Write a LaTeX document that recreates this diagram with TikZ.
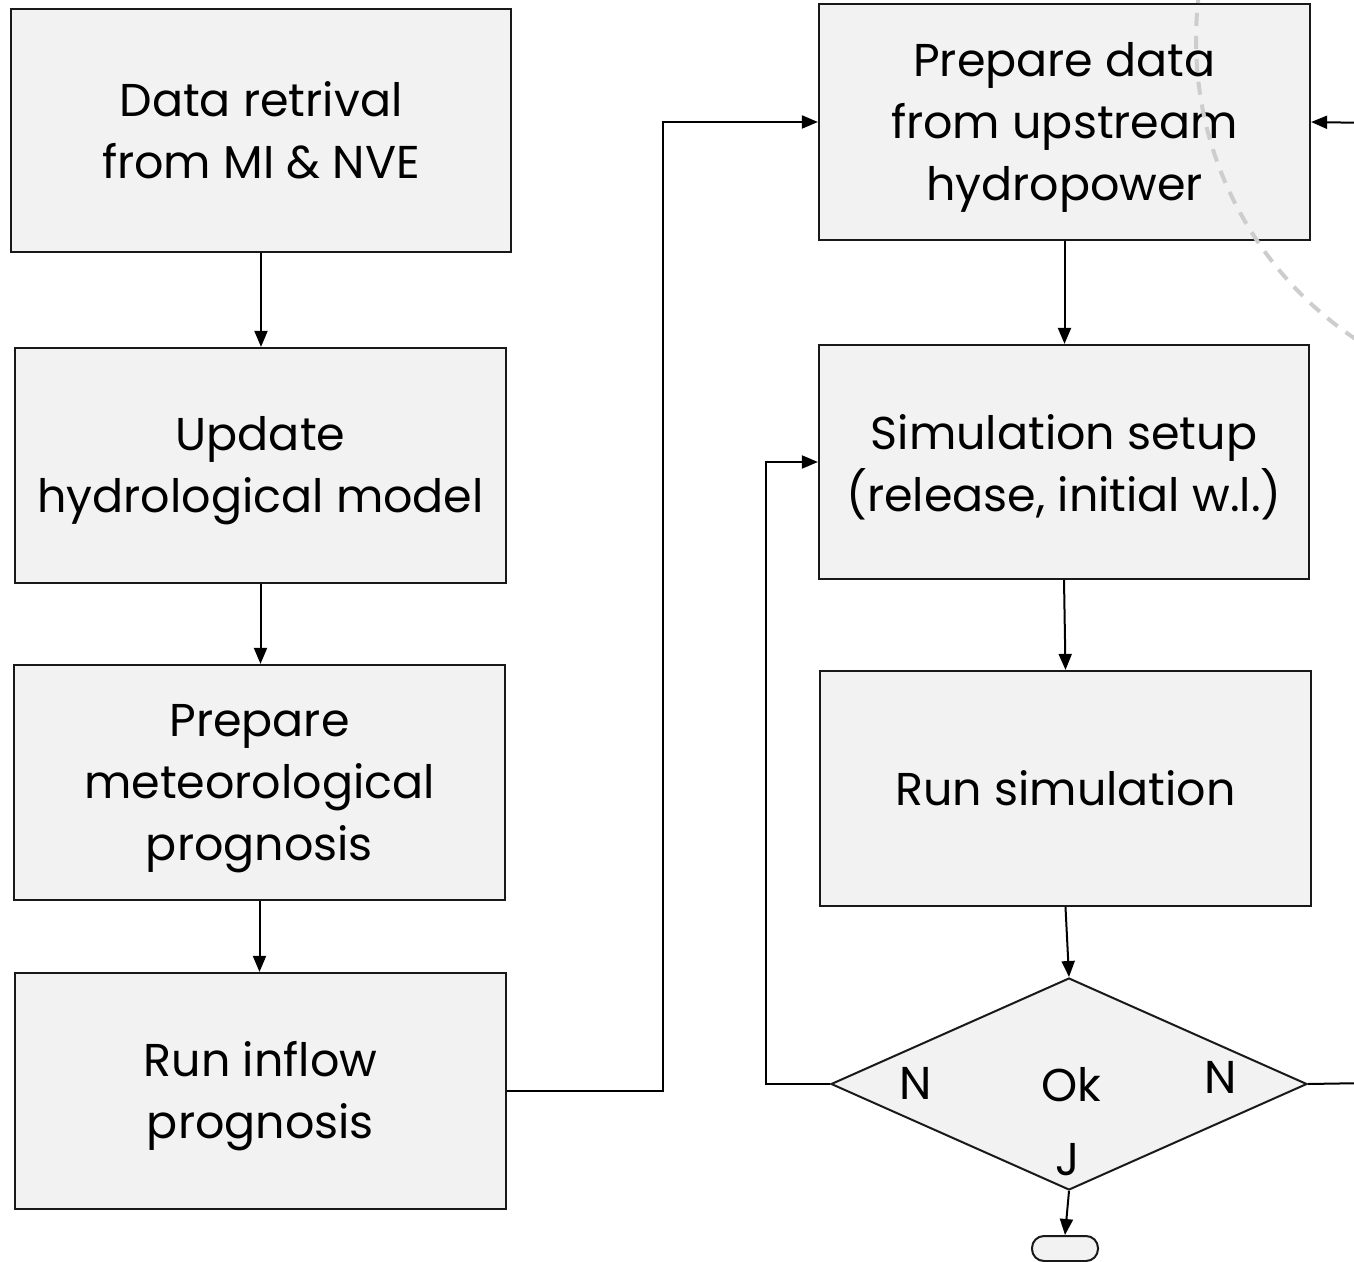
\documentclass[tikz,border=0pt]{standalone}
\usepackage{fontspec}
\setmainfont{Poppins}
\usetikzlibrary{shapes.geometric,arrows.meta}
\definecolor{boxfill}{HTML}{F2F2F2}
\definecolor{arcgray}{HTML}{CDCDCD}
% raises the first line of a multi-line box so the block sits a little lower
\newcommand\firststrut{\rule{0pt}{22.5pt}}
\begin{document}
\begin{tikzpicture}[x=0.5pt,y=-0.5pt,
  every node/.style={font=\fontsize{23pt}{31pt}\selectfont},
  procbox/.style={draw=black!90,line width=1.1pt,fill=boxfill,rectangle,
    align=center,inner sep=0pt},
  decisionbox/.style={draw=black!90,line width=1pt,fill=boxfill,diamond,
    inner sep=0pt},
  endbox/.style={draw=black!90,line width=1pt,fill=boxfill,rectangle,
    rounded corners=6pt,inner sep=0pt,minimum width=33pt,minimum height=12.5pt},
  flow/.style={line width=1pt,-{Triangle[length=8pt,width=6.5pt]}},
  plain/.style={line width=1pt},
  mark label/.style={inner sep=0pt}]
\useasboundingbox (0,0) rectangle (1354,1262);
\clip (0,0) rectangle (1354,1262);

% left column
\node[procbox,minimum width=250pt,minimum height=121.5pt] (retr) at (261,130.5)
  {Data retrival\\from MI \& NVE};
\node[procbox,minimum width=245.5pt,minimum height=117.5pt] (hydro) at (260.5,465.5)
  {\firststrut Update\\hydrological model};
\node[procbox,minimum width=245.5pt,minimum height=117.5pt] (meteo) at (259.5,782.5)
  {\firststrut Prepare\\meteorological\\prognosis};
\node[procbox,minimum width=245.5pt,minimum height=118pt] (inflow) at (260.5,1091)
  {\firststrut Run inflow\\prognosis};

% right column
\node[procbox,minimum width=245.5pt,minimum height=118pt] (upstr) at (1064.5,122)
  {\firststrut Prepare data\\from upstream\\hydropower};
\node[procbox,minimum width=245pt,minimum height=117pt] (setup) at (1064,462)
  {\firststrut Simulation setup\\(release, initial w.l.)};
\node[procbox,minimum width=245.5pt,minimum height=117.5pt] (runsim) at (1065.5,788.5)
  {Run simulation};
\node[decisionbox,minimum width=238pt,minimum height=106pt] (ok) at (1069,1084) {};
\node[endbox] (stop) at (1065,1248.5) {};

% decision labels
\node[mark label] (okl) at (1071,1085) {Ok};
\node[mark label] (nl) at (916,1083) {N};
\node[mark label] (nr) at (1221,1077) {N};
\node[mark label] (jl) at (1068,1160) {J};

% free ends leaving the drawing on the right
\coordinate (outR) at (1370,1083);
\coordinate (inR) at (1370,123);

% connectors
\draw[flow] (retr.south) -- (retr.south |- hydro.north);
\draw[flow] (hydro.south) -- (hydro.south |- meteo.north);
\draw[flow] (meteo.south) -- (meteo.south |- inflow.north);
\draw[flow] (inflow.east) -- ++(156,0) |- (upstr.west);
\draw[flow] (upstr.south) -- (upstr.south |- setup.north);
\draw[flow] (setup.south) -- (runsim.north);
\draw[flow] (runsim.south) -- (ok.north);
\draw[flow] (ok.west) -- ++(-64,0) |- (setup.west);
\draw[plain] (ok.east) -- (outR);
\draw[flow] (inR) -- (upstr.east);
\draw[flow] (ok.south) -- (stop.north);

% dashed boundary arc
\draw[arcgray,line width=2pt,dash pattern=on 6.5pt off 5pt] (1556,40) circle[radius=180pt];
\end{tikzpicture}
\end{document}
